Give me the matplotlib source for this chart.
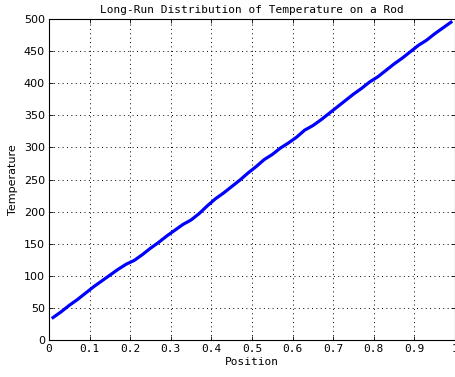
import numpy as np
import matplotlib
matplotlib.use('Agg')
import matplotlib.pyplot as plt

# position along the rod and the long-run temperature
position = [0.01, 0.03, 0.05, 0.07, 0.09, 0.11, 0.13, 0.15, 0.17, 0.19,
            0.21, 0.23, 0.25, 0.27, 0.29, 0.31, 0.33, 0.35, 0.37, 0.39,
            0.41, 0.43, 0.45, 0.47, 0.49, 0.51, 0.53, 0.55, 0.57, 0.59,
            0.61, 0.63, 0.65, 0.67, 0.69, 0.71, 0.73, 0.75, 0.77, 0.79,
            0.81, 0.83, 0.85, 0.87, 0.89, 0.91, 0.93, 0.95, 0.97, 0.99]
temperature = [35, 44, 54, 63, 73, 83, 92, 101, 110, 118,
               124, 133, 143, 152, 162, 171, 180, 187, 197, 209,
               220, 229, 239, 249, 260, 270, 281, 289, 299, 307,
               316, 327, 334, 343, 353, 363, 373, 383, 392, 402,
               410, 420, 430, 439, 449, 459, 467, 477, 486, 495]

xticks = np.arange(0, 1.01, 0.1)
yticks = np.arange(0, 501, 50)

fig = plt.figure(figsize=(4.56, 3.77), dpi=100)
ax = fig.add_axes([49/456, 1 - 340/377, 406/456, 321/377])

ax.plot(position, temperature, color=(0, 0, 1), linewidth=2.3)

ax.set_xlim(0, 1)
ax.set_ylim(0, 500)
ax.set_xticks(xticks)
ax.set_xticklabels(['0'] + ['%.1f' % t for t in xticks[1:-1]] + ['1'],
                   family='DejaVu Sans Mono')
ax.set_yticks(yticks)
ax.tick_params(direction='in', top=True, right=True, labelsize=8, length=3,
               width=0.6, pad=3)
ax.grid(True, linestyle=(0, (1, 3.5)), color='k', linewidth=0.7)
for s in ax.spines.values():
    s.set_linewidth(0.8)

ax.set_title('Long-Run Distribution of Temperature on a Rod', fontsize=8,
             family='DejaVu Sans Mono', pad=4)
ax.set_xlabel('Position', fontsize=8, family='DejaVu Sans Mono', labelpad=2)
ax.set_ylabel('Temperature', fontsize=8, labelpad=4)

plt.savefig('out.png', dpi=100)
